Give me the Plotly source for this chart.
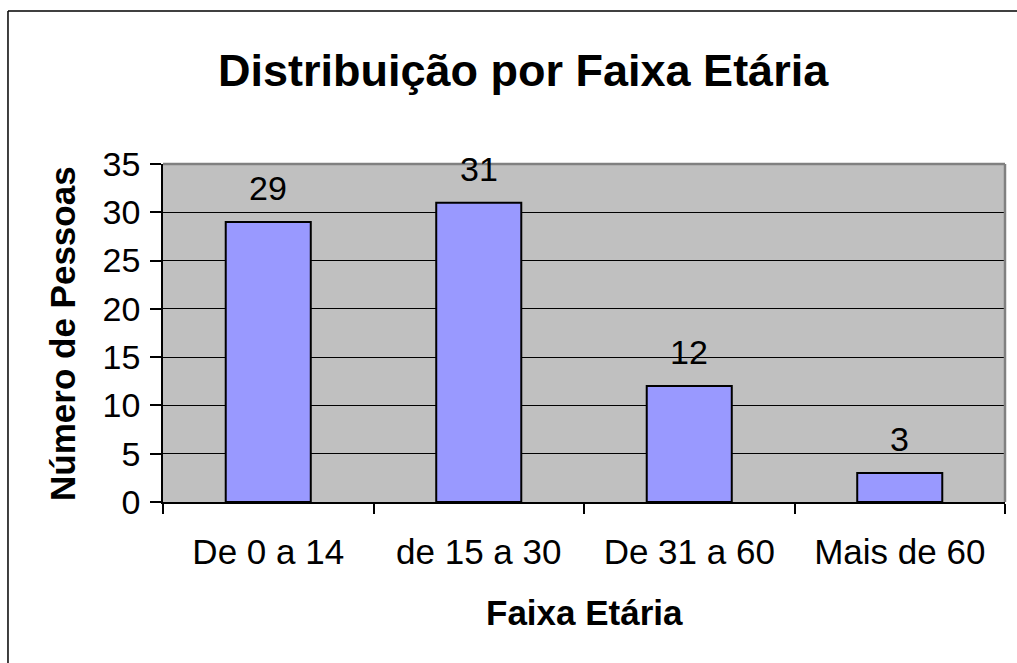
import plotly.graph_objects as go

categories = ["De 0 a 14", "de 15 a 30", "De 31 a 60", "Mais de 60"]
values = [29, 31, 12, 3]
y_ticks = [0, 5, 10, 15, 20, 25, 30, 35]

FONT = "Liberation Sans, Arial, sans-serif"

fig = go.Figure()
fig.add_trace(go.Bar(
    x=categories, y=values, width=0.404,
    marker=dict(color="#9999FF", line=dict(color="black", width=2)),
    hoverinfo="x+y",
))

annotations = []
for c, v in zip(categories, values):
    annotations.append(dict(x=c, y=v, xref="x", yref="y", text=str(v), showarrow=False,
                            yanchor="bottom", yshift=13, font=dict(size=34, color="black", family=FONT)))

annotations += [
    dict(text="<b>Distribuição por Faixa Etária</b>", x=0.4276, y=1.278, xref="paper", yref="paper",
         showarrow=False, xanchor="center", yanchor="middle", font=dict(size=45, color="black", family=FONT)),
    dict(text="<b>Faixa Etária</b>", x=0.5, y=-0.3284, xref="paper", yref="paper",
         showarrow=False, xanchor="center", yanchor="middle", font=dict(size=35, color="black", family=FONT)),
    dict(text="<b>Número de Pessoas</b>", x=-0.12, y=0.5, xref="paper", yref="paper", textangle=-90,
         showarrow=False, xanchor="center", yanchor="middle", font=dict(size=35, color="black", family=FONT)),
]

shapes = [
    # outer chart border: only left and top edges are visible
    dict(type="line", xref="paper", yref="paper", x0=-0.1841, y0=-1.0, x1=-0.1841, y1=1.4527,
         line=dict(color="black", width=1.5), layer="below"),
    dict(type="line", xref="paper", yref="paper", x0=-0.1841, y0=1.4527, x1=2.0, y1=1.4527,
         line=dict(color="black", width=1.5), layer="below"),
    # plot-area border top and right
    dict(type="line", xref="paper", yref="paper", x0=0, y0=1, x1=1, y1=1,
         line=dict(color="#808080", width=2.5), layer="above"),
    dict(type="line", xref="paper", yref="paper", x0=1, y0=0, x1=1, y1=1,
         line=dict(color="#808080", width=2.5), layer="above"),
]

fig.update_layout(
    width=1017, height=663,
    margin=dict(l=163, r=12, t=164, b=161),
    paper_bgcolor="white", plot_bgcolor="#C0C0C0",
    showlegend=False,
    font=dict(family=FONT, color="black"),
    annotations=annotations, shapes=shapes,
    xaxis=dict(range=[-0.5, 3.5], showgrid=False, tickson="boundaries", ticks="outside", ticklen=10,
               tickcolor="black", tickwidth=1.5, showline=True, linecolor="black", linewidth=1.5,
               tickfont=dict(size=35, color="black", family=FONT), ticklabelstandoff=18, zeroline=False),
    yaxis=dict(range=[0, 35], tickvals=y_ticks, showgrid=True, gridcolor="black", gridwidth=1,
               ticks="outside", ticklen=11, tickcolor="black", tickwidth=1.5,
               showline=True, linecolor="black", linewidth=1.5, zeroline=False,
               tickfont=dict(size=34, color="black", family=FONT), ticklabelstandoff=3),
)

fig.write_html("out.html", config={"displayModeBar": False},
               post_script="document.body.style.margin='0';document.body.style.overflow='hidden';")
